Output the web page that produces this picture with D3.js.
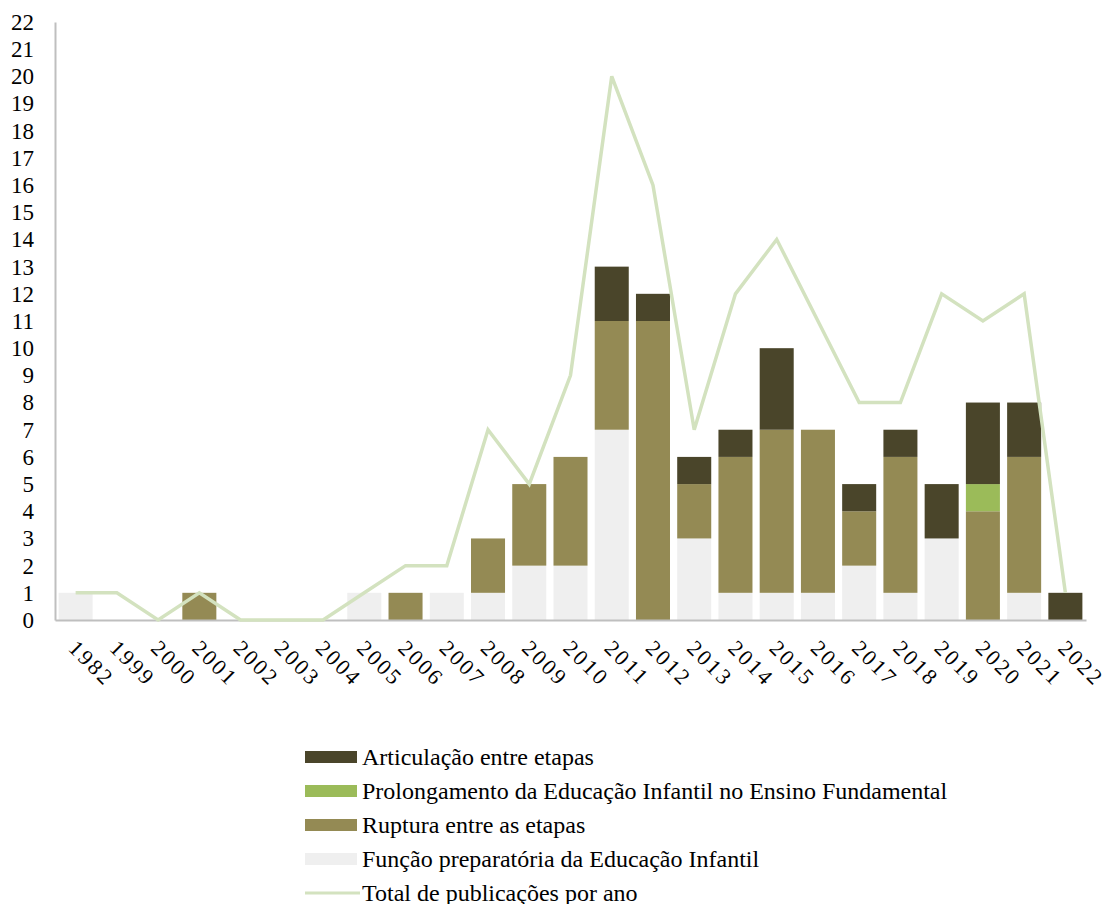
<!DOCTYPE html>
<html>
<head>
<meta charset="utf-8">
<script src="https://cdn.jsdelivr.net/npm/d3@7"></script>
<style>
  body { margin: 0; background: #fff; }
  text { font-family: "Liberation Serif", "Times New Roman", serif; fill: #000; }
</style>
</head>
<body>
<svg id="chart" width="1105" height="904"></svg>
<script>
// data
var years = ["1982","1999","2000","2001","2002","2003","2004","2005","2006","2007","2008","2009","2010","2011","2012","2013","2014","2015","2016","2017","2018","2019","2020","2021","2022"];
var funcao        = [1,0,0,0,0,0,0,1,0,1,1,2,2,7,0,3,1,1,1,2,1,3,0,1,0];
var ruptura       = [0,0,0,1,0,0,0,0,1,0,2,3,4,4,11,2,5,6,6,2,5,0,4,5,0];
var prolongamento = [0,0,0,0,0,0,0,0,0,0,0,0,0,0,0,0,0,0,0,0,0,0,1,0,0];
var articulacao   = [0,0,0,0,0,0,0,0,0,0,0,0,0,2,1,1,1,3,0,1,1,2,3,2,1];
var total         = [1,1,0,1,0,0,0,1,2,2,7,5,9,20,16,7,12,14,11,8,8,12,11,12,1];
var yTicks = d3.range(0, 23);

var series = [
  { name: "Função preparatória da Educação Infantil", values: funcao, color: "#efefef" },
  { name: "Ruptura entre as etapas", values: ruptura, color: "#948a54" },
  { name: "Prolongamento da Educação Infantil no Ensino Fundamental", values: prolongamento, color: "#9bbb59" },
  { name: "Articulação entre etapas", values: articulacao, color: "#4a452a" }
];
var lineColor = "#d3e2bf";

var svg = d3.select("#chart");
// note: "top" is a reserved global in browsers, so use m* names
var mLeft = 55, mRight = 1086, mTop = 22, mBottom = 620;

var x = d3.scaleBand().domain(years).range([mLeft, mRight]).paddingInner(0.175).paddingOuter(0.0875);
var y = d3.scaleLinear().domain([0, 22]).range([mBottom, mTop]);

// stack the four categories
var rows = years.map(function(yr, i) {
  var r = { year: yr };
  series.forEach(function(s) { r[s.name] = s.values[i]; });
  return r;
});
var stack = d3.stack().keys(series.map(function(s) { return s.name; }));
var layers = stack(rows);

svg.append("g").selectAll("g")
  .data(layers)
  .enter().append("g")
  .attr("fill", function(d, i) { return series[i].color; })
  .selectAll("rect")
  .data(function(d) { return d; })
  .enter().append("rect")
  .attr("x", function(d) { return x(d.data.year); })
  .attr("width", x.bandwidth())
  .attr("y", function(d) { return y(d[1]); })
  .attr("height", function(d) { return y(d[0]) - y(d[1]); });

// y axis
var yAxis = svg.append("g")
  .attr("transform", "translate(" + mLeft + ",0)")
  .call(d3.axisLeft(y).tickValues(yTicks).tickSize(0).tickPadding(21));
yAxis.select(".domain").attr("stroke", "#bfbfbf").attr("stroke-width", 2);
yAxis.selectAll("text").style("font-size", "23px").attr("text-anchor", "end");

// x axis
var xAxis = svg.append("g")
  .attr("transform", "translate(0," + mBottom + ")")
  .call(d3.axisBottom(x).tickSize(0).tickPadding(0));
xAxis.select(".domain").attr("stroke", "#bfbfbf").attr("stroke-width", 2);
xAxis.selectAll("text")
  .style("font-size", "22px")
  .style("letter-spacing", "2.5px")
  .attr("text-anchor", "start")
  .attr("y", 0)
  .attr("dy", "0.35em")
  .attr("transform", "translate(-3,24) rotate(45)");

// total line
var line = d3.line()
  .x(function(d, i) { return x(years[i]) + x.bandwidth() / 2; })
  .y(function(d) { return y(d); });
svg.append("path")
  .datum(total)
  .attr("fill", "none")
  .attr("stroke", lineColor)
  .attr("stroke-width", 3.5)
  .attr("d", line);

// legend
var legendItems = [
  { name: series[3].name, color: series[3].color, type: "rect" },
  { name: series[2].name, color: series[2].color, type: "rect" },
  { name: series[1].name, color: series[1].color, type: "rect" },
  { name: series[0].name, color: series[0].color, type: "rect" },
  { name: "Total de publicações por ano", color: lineColor, type: "line" }
];
var legend = svg.append("g").attr("transform", "translate(305,757)");
var li = legend.selectAll("g").data(legendItems).enter().append("g")
  .attr("transform", function(d, i) { return "translate(0," + (i * 34) + ")"; });
li.filter(function(d) { return d.type === "rect"; }).append("rect")
  .attr("x", 0).attr("y", -6).attr("width", 52).attr("height", 12)
  .attr("fill", function(d) { return d.color; });
li.filter(function(d) { return d.type === "line"; }).append("line")
  .attr("x1", 0).attr("x2", 55).attr("y1", 0).attr("y2", 0)
  .attr("stroke", function(d) { return d.color; }).attr("stroke-width", 3);
li.append("text")
  .attr("x", 57).attr("y", 0).attr("dy", "0.35em")
  .style("font-size", "24px")
  .text(function(d) { return d.name; });
</script>
</body>
</html>
